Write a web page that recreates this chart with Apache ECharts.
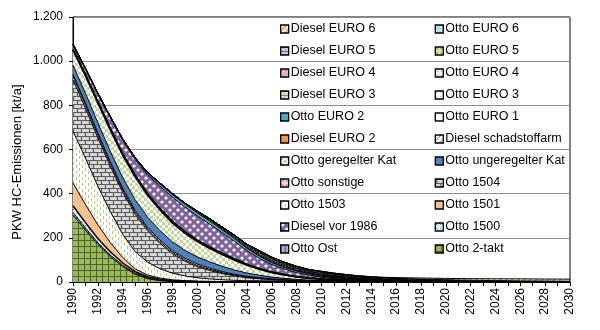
<!DOCTYPE html>
<html><head><meta charset="utf-8">
<script src="https://cdn.jsdelivr.net/npm/echarts@6/dist/echarts.min.js"></script>
<style>html,body{margin:0;padding:0;background:#fff}#c{width:600px;height:330px}</style>
</head><body><div id="c"></div>
<script>
const years = ['1990','1991','1992','1993','1994','1995','1996','1997','1998','1999','2000','2001','2002','2003','2004','2005','2006','2007','2008','2009','2010','2011','2012','2013','2014','2015','2016','2017','2018','2019','2020','2021','2022','2023','2024','2025','2026','2027','2028','2029','2030'];

const otto2takt = [303,235,170,115,70,35,15,6,2,1, 0,0,0,0,0,0,0,0,0,0, 0,0,0,0,0,0,0,0,0,0, 0,0,0,0,0,0,0,0,0,0, 0];
const ottoOst = [12,10,8,7,6,5,4,3,2,1.5, 1,0.8,0.6,0.4,0.3,0.2,0.1,0,0,0, 0,0,0,0,0,0,0,0,0,0, 0,0,0,0,0,0,0,0,0,0, 0];
const otto1500 = [30,24,19,15,10,7,5,4,3,2, 1,0.8,0.6,0.4,0.3,0.2,0.1,0,0,0, 0,0,0,0,0,0,0,0,0,0, 0,0,0,0,0,0,0,0,0,0, 0];
const otto1501 = [103,82,62,42,25,12,8,5,3,2, 2,1.5,1,0.8,0.5,0.3,0.2,0.1,0,0, 0,0,0,0,0,0,0,0,0,0, 0,0,0,0,0,0,0,0,0,0, 0];
const otto1503 = [235,210,175,140,105,78,58,42,30,21, 15,11,8,6,4,3,2,1.5,1,0.7, 0.5,0.3,0.2,0.1,0,0,0,0,0,0, 0,0,0,0,0,0,0,0,0,0, 0];
const otto1504 = [232,226,218,205,190,170,142,115,88,67, 50,38,28,20,14,11,8,6,4.5,3.5, 2.5,2,1.5,1,0.8,0.5,0.3,0.2,0.1,0, 0,0,0,0,0,0,0,0,0,0, 0];
const ottoSonstige = [15,14,13,12,10,9,8,7,7,6, 6,5,4,3.5,3,2,1.5,1,0.8,0.6, 0.5,0.4,0.3,0.2,0.1,0,0,0,0,0, 0,0,0,0,0,0,0,0,0,0, 0];
const dieselSchadstoffarm = [10,10,10,9,9,9,8,8,7,7, 7,6,5,4,3.5,3,2.5,2,1.5,1, 0.8,0.6,0.4,0.3,0.2,0.1,0,0,0,0, 0,0,0,0,0,0,0,0,0,0, 0];
const ottoUngeregelterKat = [42,44,46,47,48,48,46,43,40,36, 32,28,24,19,15,11,8,6,4,3, 2,1.5,1,0.8,0.5,0.3,0.2,0.1,0,0, 0,0,0,0,0,0,0,0,0,0, 0];
const ottoGeregelterKat = [68,78,88,95,99,102,97,91,84,76, 68,60,52,44,34,26,19,14,10,7.5, 5.5,4,3,2,1.5,1,0.8,0.5,0.3,0.2, 0.1,0,0,0,0,0,0,0,0,0, 0];
const ottoEuro1 = [4,5,6,7,8,8,8,8,8,8, 7,7,6,6,5,4,3.5,3,2.5,2, 1.5,1.2,1,0.8,0.6,0.5,0.4,0.3,0.2,0.1, 0.1,0,0,0,0,0,0,0,0,0, 0];
const dieselVor1986 = [17,25,35,50,62,72,86,102,110,112, 110,104,94,80,62,46,34,25,18,13, 8,5.5,4,3,2,1,0.8,0.5,0.3,0.2, 0.1,0,0,0,0,0,0,0,0,0, 0];
const ottoEuro2 = [5,5,5,5,5,6,8,10,12,13, 14,14,13,12,11,10,9,8,7,6, 5,4,3.5,3,2.5,2,1.5,1.2,1,0.8, 0.6,0.5,0.4,0.3,0.2,0.2,0.1,0.1,0,0, 0];
const dieselEuro2 = [0,0,0,0,0,2,3,4,5,5, 5,5,5,5,4.5,4,3.5,3,2.5,2, 2,1.5,1.2,1,0.8,0.6,0.5,0.4,0.3,0.2, 0.1,0.1,0,0,0,0,0,0,0,0, 0];
const ottoEuro3 = [0,0,0,0,0,0,0,0,0,0, 2,3,4,5,5,5,5,4.5,4,3.5, 3,2.5,2,1.6,1.2,1,0.8,0.6,0.5,0.4, 0.3,0.2,0.2,0.1,0.1,0,0,0,0,0, 0];
const dieselEuro3 = [0,0,0,0,0,0,0,0,0,0, 1,3,4,5,6,6,6,5.5,5,4.5, 4,3.5,3,2.5,2,1.5,1.2,1,0.8,0.6, 0.5,0.4,0.3,0.2,0.1,0.1,0,0,0,0, 0];
const ottoEuro4 = [0,0,0,0,0,0,0,0,0,0, 0,0,0,1,2,4,4,4,4,3.5, 3,3,2.5,2,1.8,1.5,1.3,1.1,1,0.9, 0.8,0.6,0.5,0.4,0.3,0.3,0.2,0.2,0.1,0.1, 0.1];
const dieselEuro4 = [0,0,0,0,0,0,0,0,0,0, 0,0,0,0,0,6,6,6,6,5.5, 5,4.5,4,3.5,3,2.5,2,1.6,1.3,1, 0.8,0.6,0.5,0.4,0.3,0.2,0.2,0.1,0.1,0.1, 0];
const ottoEuro5 = [0,0,0,0,0,0,0,0,0,0, 0,0,0,0,0,0,0,0,0,0, 2,2,2,2,2,2,2,2,2,2, 1.8,1.6,1.4,1.2,1,0.8,0.7,0.6,0.5,0.4, 0.3];
const dieselEuro5 = [0,0,0,0,0,0,0,0,0,0, 0,0,0,0,0,0,0,0,0,0, 3,3.5,4,4,4,4,3.8,3.6,3.4,3.2, 3,2.6,2.2,1.8,1.5,1.2,1,0.8,0.6,0.5, 0.4];
const ottoEuro6 = [0,0,0,0,0,0,0,0,0,0, 0,0,0,0,0,0,0,0,0,0, 0,0,0,0,0.5,1,1.5,1.8,2,2, 2.2,2.4,2.6,2.8,3,3,3,3,3,3, 3];
const dieselEuro6 = [0,0,0,0,0,0,0,0,0,0, 0,0,0,0,0,0,0,0,0,0, 0,0,0,0,1,2,3,4,5,5.5, 6,6.5,7,7.5,8,8.5,9,9,9,9, 9];

const yTicks = [0, 200, 400, 600, 800, 1000, 1200];
const yName = 'PKW HC-Emissionen [kt/a]';

// ---- pattern helpers ----
function pat(size, bg, draw) {
  const c = document.createElement('canvas');
  c.width = size; c.height = size;
  const g = c.getContext('2d');
  g.fillStyle = bg; g.fillRect(0, 0, size, size);
  if (draw) draw(g, size);
  return { image: c, repeat: 'repeat' };
}
function lines(col, w, segs) {
  return function (g) {
    g.strokeStyle = col; g.lineWidth = w; g.beginPath();
    segs.forEach(s => { g.moveTo(s[0], s[1]); g.lineTo(s[2], s[3]); });
    g.stroke();
  };
}
function rects(col, rs) {
  return function (g) { g.fillStyle = col; rs.forEach(r => g.fillRect(r[0], r[1], r[2], r[3])); };
}

const P = {
  '2takt': pat(6, '#9BBB59', lines('#4F6228', 1, [[0.5,0,0.5,6],[0,0.5,6,0.5]])),
  'ost': pat(4, '#B7A8D0', lines('#5F497A', 1, [[0.5,0,0.5,4]])),
  '1500': pat(4, '#DAEEF3', rects('#31859C', [[1,1,1,1]])),
  '1501': '#FAC090',
  '1503': pat(6, '#ffffff', rects('#B5CC85', [[1,0,1,3],[4,3,1,3]])),
  '1504': pat(8, '#D8D8D8', lines('#5A5A5A', 1.2, [[0,0.5,8,0.5],[0,4.5,8,4.5],[1.5,0,1.5,4.5],[5.5,4.5,5.5,8]])),
  'sonst': pat(4, '#F2DCDB', rects('#D99694', [[1,1,2,2]])),
  'schad': pat(6, '#ffffff', lines('#C0504D', 1, [[0,6,6,0]])),
  'unger': '#4F81BD',
  'ger': pat(6, '#ffffff', rects('#C3D69B', [[0,0,3,3],[3,3,3,3]])),
  'e1': '#ffffff',
  'dvor': pat(8, '#8064A2', function (g) { g.fillStyle = '#ffffff'; g.beginPath(); g.arc(2, 2, 1.6, 0, 7); g.fill(); g.beginPath(); g.arc(6, 6, 1.6, 0, 7); g.fill(); }),
  'e2': '#4BACC6',
  'de2': '#F79646',
  'oe3': pat(4, '#ffffff', rects('#A6A6A6', [[1,1,1,1]])),
  'de3': pat(4, '#DDD9C3', lines('#948A54', 1, [[0,0.5,4,0.5]])),
  'oe4': pat(4, '#F2F2F2', rects('#7F7F7F', [[2,2,1,1]])),
  'de4': pat(4, '#E6B9B8', rects('#C0504D', [[1,1,1,1]])),
  'oe5': pat(4, '#D7E4BD', rects('#9BBB59', [[1,1,2,2]])),
  'de5': pat(4, '#CCC1DA', lines('#8064A2', 1, [[0,0.5,4,0.5]])),
  'oe6': pat(4, '#B7DEE8', rects('#ffffff', [[1,1,1,1]])),
  'de6': pat(6, '#ffffff', lines('#F79646', 1.6, [[0,6,6,0],[-3,3,3,-3],[3,9,9,3]]))
};

// stack order bottom -> top
const stackDefs = [
  ['Otto 2-takt', otto2takt, '2takt', 1],
  ['Otto Ost', ottoOst, 'ost', 1],
  ['Otto 1500', otto1500, '1500', 1.5],
  ['Otto 1501', otto1501, '1501', 1],
  ['Otto 1503', otto1503, '1503', 1],
  ['Otto 1504', otto1504, '1504', 1],
  ['Otto sonstige', ottoSonstige, 'sonst', 1],
  ['Diesel schadstoffarm', dieselSchadstoffarm, 'schad', 1],
  ['Otto ungeregelter Kat', ottoUngeregelterKat, 'unger', 1],
  ['Otto geregelter Kat', ottoGeregelterKat, 'ger', 1.2],
  ['Otto EURO 1', ottoEuro1, 'e1', 2],
  ['Diesel vor 1986', dieselVor1986, 'dvor', 1],
  ['Otto EURO 2', ottoEuro2, 'e2', 1],
  ['Diesel EURO 2', dieselEuro2, 'de2', 1],
  ['Otto EURO 3', ottoEuro3, 'oe3', 1],
  ['Diesel EURO 3', dieselEuro3, 'de3', 1],
  ['Otto EURO 4', ottoEuro4, 'oe4', 1],
  ['Diesel EURO 4', dieselEuro4, 'de4', 1],
  ['Otto EURO 5', ottoEuro5, 'oe5', 1],
  ['Diesel EURO 5', dieselEuro5, 'de5', 1],
  ['Otto EURO 6', ottoEuro6, 'oe6', 1],
  ['Diesel EURO 6', dieselEuro6, 'de6', 1]
];

const legendOrder = ['Diesel EURO 6','Otto EURO 6','Diesel EURO 5','Otto EURO 5','Diesel EURO 4','Otto EURO 4','Diesel EURO 3','Otto EURO 3','Otto EURO 2','Otto EURO 1','Diesel EURO 2','Diesel schadstoffarm','Otto geregelter Kat','Otto ungeregelter Kat','Otto sonstige','Otto 1504','Otto 1503','Otto 1501','Diesel vor 1986','Otto 1500','Otto Ost','Otto 2-takt'];

const fillOf = {};
stackDefs.forEach(d => { fillOf[d[0]] = P[d[2]]; });

const series = stackDefs.map(d => ({
  name: d[0],
  type: 'line',
  stack: 'total',
  data: d[1],
  symbol: 'none',
  smooth: false,
  lineStyle: { color: '#000', width: d[3] },
  itemStyle: { color: '#000' },
  areaStyle: { color: P[d[2]], opacity: 1 },
  emphasis: { disabled: true },
  silent: true
}));

const FONT = 'Liberation Sans, Arial, sans-serif';
const chart = echarts.init(document.getElementById('c'), null, { renderer: 'canvas' });
chart.setOption({
  animation: false,
  backgroundColor: '#ffffff',
  grid: { left: 73, top: 17, width: 497, height: 265, show: true, borderColor: '#000', borderWidth: 1, backgroundColor: 'transparent' },
  graphic: [{
    type: 'text', x: 17, y: 162, rotation: Math.PI / 2,
    style: { text: yName, fontFamily: FONT, fontSize: 13, fill: '#000', align: 'center', verticalAlign: 'middle' }
  }],
  legend: {
    left: 275, top: 17, width: 320, orient: 'horizontal',
    itemWidth: 8, itemHeight: 8, itemGap: 8, icon: 'rect',
    textStyle: { fontFamily: FONT, fontSize: 12.5, color: '#000', width: 136, lineHeight: 14, padding: [0,0,0,-3] },
    selectedMode: false,
    data: legendOrder.map(n => ({ name: n, icon: 'rect', itemStyle: { color: fillOf[n], borderColor: '#000', borderWidth: 1.3 } }))
  },
  xAxis: {
    type: 'category', data: years, boundaryGap: false,
    axisLine: { lineStyle: { color: '#000', width: 1 } },
    axisTick: { show: true, interval: 0, length: 4, inside: false, lineStyle: { color: '#000' } },
    axisLabel: { interval: 1, rotate: 90, margin: 6, fontFamily: FONT, fontSize: 12, color: '#000' },
    splitLine: { show: false }
  },
  yAxis: {
    type: 'value', min: yTicks[0], max: yTicks[yTicks.length - 1], interval: 200,
    axisLine: { show: true, lineStyle: { color: '#000', width: 1 } },
    axisTick: { show: true, length: 4, lineStyle: { color: '#000' } },
    axisLabel: { fontFamily: FONT, fontSize: 12, color: '#000', margin: 10,
      formatter: v => v >= 1000 ? Math.floor(v / 1000) + '.' + String(v % 1000).padStart(3, '0') : String(v) },
    splitLine: { show: true, lineStyle: { color: '#8C8C8C', width: 1 } }
  },
  series: series
});
</script>
</body></html>
